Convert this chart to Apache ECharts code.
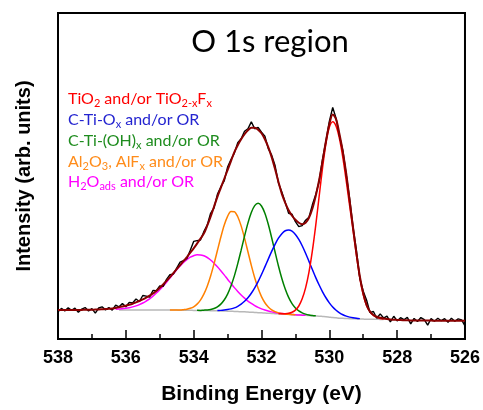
<!DOCTYPE html>
<html>
<head>
<meta charset="utf-8">
<title>O 1s region</title>
<script src="https://cdn.jsdelivr.net/npm/echarts@6/dist/echarts.min.js"></script>
<style>
    html, body { margin: 0; padding: 0; background: #fff; }
    #chart { width: 483px; height: 410px; }
</style>
</head>
<body>
<div id="chart"></div>
<script>
// all curves are sampled every 0.1 eV, going from high to low binding energy
const energyStep = 0.1;

// raw spectrum and fitted envelope, 538 -> 526 eV
const measuredStart = 538.0;
const measured = [
    27.3, 30.8, 28.3, 31.3, 28.8, 31.1, 26.8, 30.1, 31.6, 28.2,
    30.5, 26.1, 31.2, 32.4, 29.3, 31.6, 29.0, 34.1, 32.4, 35.6,
    32.4, 36.9, 36.3, 40.3, 37.7, 43.8, 43.1, 42.1, 48.8, 48.7,
    53.5, 53.0, 60.0, 64.8, 65.3, 71.3, 77.3, 78.8, 81.0, 89.3,
    98.2, 99.0, 99.5, 108.0, 114.5, 126.5, 132.0, 145.5, 153.0, 159.0,
    173.0, 180.5, 187.0, 197.5, 201.5, 209.0, 211.5, 218.5, 211.5, 213.0,
    208.0, 204.0, 191.5, 185.0, 174.5, 157.0, 148.0, 137.5, 126.5, 125.5,
    118.0, 113.0, 114.0, 119.5, 122.5, 135.0, 145.5, 158.5, 181.0, 199.0,
    219.0, 233.0, 222.0, 204.0, 189.5, 165.0, 141.0, 112.5, 89.0, 61.0,
    48.0, 39.0, 26.5, 27.7, 20.9, 25.3, 21.1, 23.1, 17.2, 22.9,
    18.2, 21.5, 19.4, 21.8, 15.2, 20.7, 17.6, 21.6, 19.5, 14.0,
    20.5, 17.9, 20.9, 18.4, 20.4, 16.8, 20.8, 17.8, 20.3, 19.3,
    13.3
];
const envelope = [
    29.3, 29.3, 29.3, 29.3, 29.3, 29.3, 29.3, 29.3, 29.4, 29.4,
    29.5, 29.6, 29.7, 29.9, 30.1, 30.4, 30.8, 31.3, 31.9, 32.6,
    33.4, 34.4, 35.5, 36.8, 38.2, 39.8, 41.6, 43.6, 45.8, 48.2,
    51.5, 55.0, 58.5, 62.3, 66.3, 70.3, 74.3, 78.3, 82.5, 86.8,
    91.2, 96.0, 101, 106, 114, 123, 133, 143, 152, 161,
    170, 179, 188, 195, 201, 206, 210, 212.5, 212.5, 210.5,
    207, 201, 193, 183, 171, 158, 146, 137, 129.5, 124,
    120, 117, 115.5, 117, 122, 131, 144, 160, 179, 199,
    216, 226, 221, 206, 188, 166, 139, 112, 86, 63,
    46, 34, 27.5, 24.2, 22.4, 21.3, 20.6, 20.1, 19.7, 19.4,
    19.2, 19.0, 18.9, 18.8, 18.7, 18.7, 18.6, 18.6, 18.5, 18.5,
    18.5, 18.4, 18.4, 18.4, 18.4, 18.3, 18.3, 18.3, 18.3, 18.3,
    18.3
];

// Shirley background
const backgroundStart = 536.2;
const background = [
    29.3, 29.3, 29.3, 29.3, 29.3, 29.3, 29.3, 29.3, 29.3, 29.3,
    29.2, 29.2, 29.2, 29.2, 29.2, 29.1, 29.1, 29.1, 29.0, 29.0,
    28.9, 28.9, 28.8, 28.8, 28.7, 28.7, 28.6, 28.5, 28.4, 28.3,
    28.2, 28.1, 28.0, 27.9, 27.7, 27.6, 27.4, 27.3, 27.1, 26.9,
    26.7, 26.5, 26.3, 26.1, 25.9, 25.7, 25.5, 25.3, 25.1, 24.9,
    24.7, 24.5, 24.3, 24.1, 24.0, 23.8, 23.6, 23.4, 23.2, 23.0,
    22.7, 22.4, 22.0, 21.6, 21.3, 21.0, 20.8, 20.6, 20.4, 20.3,
    20.2, 20.1, 20.0, 19.9, 19.9, 19.8, 19.8, 19.7, 19.7
];

// fitted components (background included)
const h2oStart = 536.3;
const h2o = [
    29.9, 30.1, 30.5, 30.9, 31.5, 32.3, 33.3, 34.6, 36.2, 38.2,
    40.4, 43.1, 46.2, 49.6, 53.2, 57.2, 61.3, 65.5, 69.6, 73.4,
    76.9, 79.9, 82.3, 83.8, 84.7, 84.6, 83.7, 82.0, 79.5, 76.3,
    72.7, 68.7, 64.5, 60.1, 55.9, 51.7, 47.9, 44.3, 41.1, 38.2,
    35.8, 33.6, 31.8, 30.3, 29.1, 28.1, 27.3, 26.7, 26.1, 25.7,
    25.3, 25.0, 24.7, 24.4, 24.2, 24.0, 23.8
];
const al2o3Start = 534.7;
const al2o3 = [
    29.2, 29.2, 29.2, 29.2, 29.5, 29.9, 30.9, 32.4, 35.1, 39.1,
    45.1, 53.1, 63.4, 75.6, 89.0, 102.4, 114.5, 123.4, 128.3, 128.1,
    123.0, 113.8, 101.5, 87.8, 74.1, 61.6, 51.0, 42.7, 36.5, 32.2,
    29.3, 27.5, 26.3, 25.6, 25.1, 24.8, 24.6, 24.3
];
const ohStart = 533.9;
const oh = [
    28.9, 28.8, 29.0, 29.2, 29.7, 30.7, 32.4, 35.1, 39.2, 45.2,
    53.3, 63.5, 75.8, 89.4, 103.5, 116.6, 127.3, 134.2, 136.5, 133.8,
    126.5, 115.4, 101.9, 87.5, 73.5, 60.9, 50.3, 41.9, 35.6, 31.2,
    28.2, 26.3, 25.0, 24.2, 23.7, 23.3
];
const tiOxStart = 533.3;
const tiOx = [
    28.7, 28.8, 29.1, 29.6, 30.3, 31.3, 32.9, 35.0, 37.9, 41.5,
    46.0, 51.5, 57.8, 64.9, 72.6, 80.4, 88.2, 95.3, 101.4, 106.0,
    108.9, 109.7, 108.5, 105.2, 100.2, 93.8, 86.3, 78.1, 69.9, 61.8,
    54.3, 47.5, 41.5, 36.4, 32.2, 28.9, 26.3, 24.4, 23.0, 22.0,
    21.3, 20.8, 20.5
];
const tio2Start = 531.5;
const tio2 = [
    25.3, 25.3, 25.4, 25.8, 26.9, 29.1, 33.2, 40.4, 51.4, 67.3,
    88.6, 114.6, 143.5, 172.1, 196.6, 213.0, 218.6, 214.0, 201.3, 182.3,
    158.9, 133.8, 109.2, 84.2, 61.1, 44.5, 33.4, 27.4, 23.8, 21.8,
    20.5, 20.0
];

const xTicks = { min: 526, max: 538, step: 2 };

// [energy, intensity] pairs for the value axis
function toPairs(start, values) {
    return values.map((v, i) => [+(start - i * energyStep).toFixed(1), v]);
}

function curve(name, start, values, color, width) {
    return {
        name: name,
        type: 'line',
        data: toPairs(start, values),
        showSymbol: false,
        smooth: 0.3,
        lineStyle: { color: color, width: width },
        itemStyle: { color: color },
        z: 2
    };
}

const chart = echarts.init(document.getElementById('chart'));

const sub = { fontSize: 11, verticalAlign: 'bottom', lineHeight: 13, fontFamily: 'Lato' };
function legendLine(text, color, y) {
    return {
        type: 'text',
        left: 68,
        top: y,
        style: {
            text: text,
            fill: color,
            font: '16px Lato',
            lineHeight: 20,
            rich: {
                n: { fontSize: 16, lineHeight: 20, fontFamily: 'Lato', fill: color },
                s: Object.assign({ fill: color }, sub)
            }
        }
    };
}

chart.setOption({
    animation: false,
    backgroundColor: '#fff',
    grid: {
        left: 58,
        right: 17,
        top: 13,
        bottom: 69,
        show: true,
        borderColor: '#000',
        borderWidth: 2,
        backgroundColor: 'transparent'
    },
    xAxis: {
        type: 'value',
        inverse: true,
        min: xTicks.min,
        max: xTicks.max,
        interval: xTicks.step,
        name: 'Binding Energy (eV)',
        nameLocation: 'middle',
        nameGap: 45,
        nameTextStyle: {
            fontFamily: 'Liberation Sans',
            fontWeight: 'bold',
            fontSize: 21,
            color: '#000'
        },
        axisLine: { lineStyle: { color: '#000', width: 2 } },
        axisTick: { inside: true, length: 9, lineStyle: { color: '#000', width: 1.5 } },
        minorTick: { show: true, splitNumber: 2, length: 5, lineStyle: { color: '#000', width: 1.5 } },
        axisLabel: {
            margin: 10,
            fontFamily: 'Liberation Sans',
            fontWeight: 'bold',
            fontSize: 18,
            color: '#000'
        },
        splitLine: { show: false }
    },
    yAxis: {
        type: 'value',
        min: 0,
        max: 328,
        name: 'Intensity (arb. units)',
        nameLocation: 'middle',
        nameGap: 24,
        nameTextStyle: {
            fontFamily: 'Liberation Sans',
            fontWeight: 'bold',
            fontSize: 20,
            color: '#000'
        },
        axisLine: { show: false },
        axisTick: { show: false },
        axisLabel: { show: false },
        splitLine: { show: false }
    },
    graphic: [
        {
            type: 'text',
            x: 270,
            y: 42,
            style: {
                text: 'O 1s region',
                font: '31px Lato',
                fill: '#000',
                textAlign: 'center',
                textVerticalAlign: 'middle'
            }
        },
        legendLine('{n|TiO}{s|2}{n| and/or TiO}{s|2-x}{n|F}{s|x}', '#ff0000', 89),
        legendLine('{n|C-Ti-O}{s|x}{n| and/or OR}', '#2424d0', 110),
        legendLine('{n|C-Ti-(OH)}{s|x}{n| and/or OR}', '#1e8c1e', 131),
        legendLine('{n|Al}{s|2}{n|O}{s|3}{n|, AlF}{s|x}{n| and/or OR}', '#ff8c1a', 152),
        legendLine('{n|H}{s|2}{n|O}{s|ads}{n| and/or OR}', '#ff00ff', 172)
    ],
    series: [
        curve('Background', backgroundStart, background, '#b8b8b8', 1.5),
        curve('H2O ads', h2oStart, h2o, '#ff00ff', 1.5),
        curve('Al2O3', al2o3Start, al2o3, '#ff8000', 1.5),
        curve('C-Ti-(OH)x', ohStart, oh, '#008000', 1.5),
        curve('C-Ti-Ox', tiOxStart, tiOx, '#0000ff', 1.5),
        curve('TiO2', tio2Start, tio2, '#ff0000', 1.5),
        {
            name: 'Measured',
            type: 'line',
            data: toPairs(measuredStart, measured),
            showSymbol: false,
            lineStyle: { color: '#000', width: 1.4 },
            z: 3
        },
        Object.assign(curve('Envelope', measuredStart, envelope, '#8b0000', 2), { z: 4 })
    ]
});
</script>
</body>
</html>
